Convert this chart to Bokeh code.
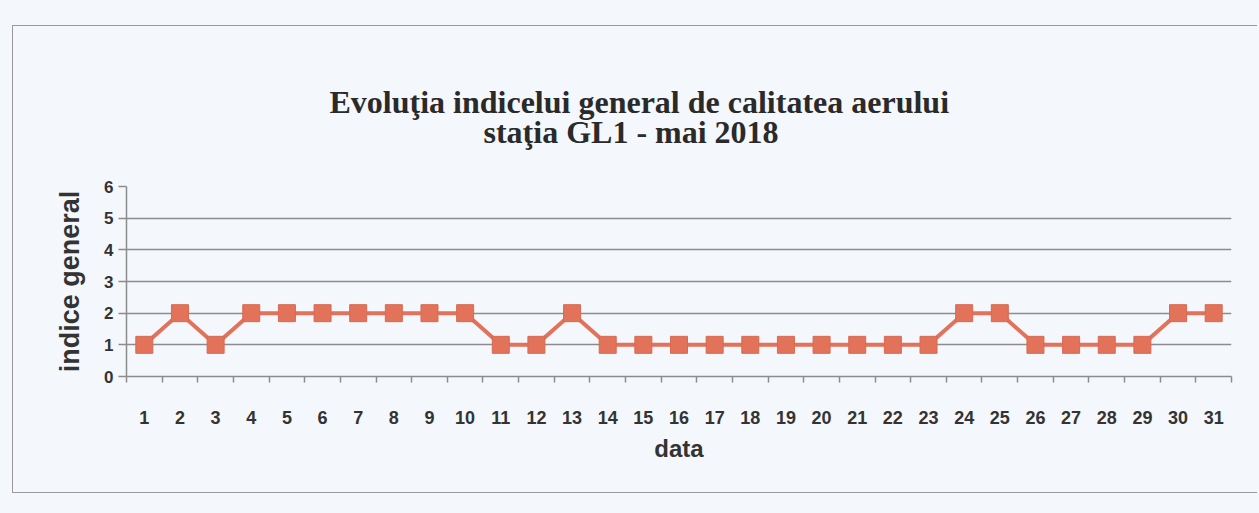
from bokeh.plotting import figure
from bokeh.models import FixedTicker, Title, Range1d
from bokeh.embed import file_html
from bokeh.resources import INLINE

days = list(range(1, 32))
indice = [1, 2, 1, 2, 2, 2, 2, 2, 2, 2, 1, 1, 2, 1, 1, 1, 1, 1, 1, 1, 1, 1, 1, 2, 2, 1, 1, 1, 1, 2, 2]
y_ticks = [0, 1, 2, 3, 4, 5, 6]
title_1 = "Evoluţia indicelui general de calitatea aerului"
title_2 = "staţia GL1 - mai 2018"

bg = "#f4f7fb"
p = figure(width=1245, height=468, output_backend="svg", toolbar_location=None,
           x_range=Range1d(0.5, 31.5), y_range=Range1d(0, 6),
           background_fill_color=bg, border_fill_color=bg,
           min_border_left=113, min_border_right=27, min_border_bottom=118,
           min_border_top=160,
           margin=(25, 0, 0, 12),
           styles={"border-left": "1.5px solid #999", "border-top": "1.5px solid #999",
                   "border-bottom": "1.5px solid #999"})
p.title = None
# spacer between the frame and the two title lines
p.add_layout(Title(text=" ", text_font_size="1px", standoff=38, text_color=bg), "above")
p.add_layout(Title(text=title_2, align="left", offset=357, text_font="Liberation Serif",
                   text_font_size="32px", text_font_style="bold", text_color="#2a2a2a",
                   standoff=-8), "above")
p.add_layout(Title(text=title_1, align="left", offset=203, text_font="Liberation Serif",
                   text_font_size="32px", text_font_style="bold", text_color="#2a2a2a",
                   standoff=-8), "above")

p.outline_line_color = None
p.xgrid.grid_line_color = None
p.ygrid.grid_line_color = "#8c8c8c"
p.ygrid.grid_line_width = 1.5
p.ygrid.ticker = FixedTicker(ticks=y_ticks)

p.line(days, indice, line_color="#e2725a", line_width=4)
p.scatter(days, indice, marker="square", size=17, fill_color="#e2725a", line_color="#d86a52")

ax = p.xaxis[0]
ax.ticker = FixedTicker(ticks=days, minor_ticks=[d + 0.5 for d in [0] + days])
ax.axis_line_color = "#8c8c8c"
ax.axis_line_width = 1.5
ax.major_tick_line_color = None
ax.minor_tick_line_color = "#8c8c8c"
ax.minor_tick_line_width = 1.5
ax.minor_tick_out = 6
ax.minor_tick_in = 0
ax.major_label_standoff = 28
ax.major_label_text_font = "Liberation Sans"
ax.major_label_text_font_style = "bold"
ax.major_label_text_font_size = "18px"
ax.major_label_text_color = "#333333"
ax.axis_label = "data"
ax.axis_label_text_font = "Liberation Sans"
ax.axis_label_text_font_style = "bold"
ax.axis_label_text_font_size = "24px"
ax.axis_label_text_color = "#333333"
ax.axis_label_standoff = 8

ay = p.yaxis[0]
ay.ticker = FixedTicker(ticks=y_ticks)
ay.axis_line_color = "#8c8c8c"
ay.axis_line_width = 1.5
ay.major_tick_line_color = "#8c8c8c"
ay.major_tick_line_width = 1.5
ay.major_tick_out = 8
ay.major_tick_in = 0
ay.minor_tick_line_color = None
ay.major_label_standoff = 5
ay.major_label_text_font = "Liberation Sans"
ay.major_label_text_font_style = "bold"
ay.major_label_text_font_size = "17px"
ay.major_label_text_color = "#333333"
ay.axis_label = "indice general"
ay.axis_label_text_font = "Liberation Sans"
ay.axis_label_text_font_style = "bold"
ay.axis_label_text_font_size = "27px"
ay.axis_label_text_color = "#333333"
ay.axis_label_standoff = 16

html = file_html(p, INLINE)
html = html.replace("<body>", '<body style="background-color:%s">' % bg)
open("out.html", "w").write(html)
